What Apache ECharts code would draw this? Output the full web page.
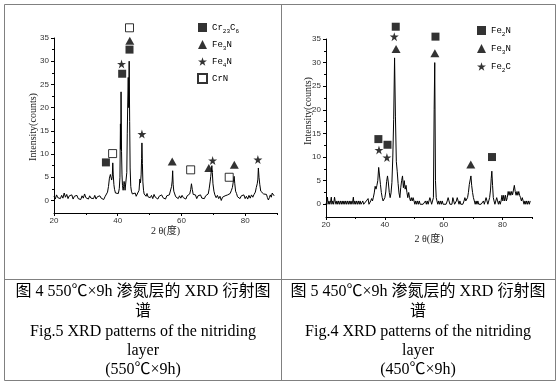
<!DOCTYPE html>
<html><head><meta charset="utf-8">
<script src="https://cdn.jsdelivr.net/npm/echarts@6/dist/echarts.min.js"></script>
<style>html,body{margin:0;padding:0;background:#fff}#c{width:560px;height:385px}</style>
</head><body><div id="c"></div>
<script>
// ---------- data ----------
const xMajorTicks = [20, 40, 60, 80];
const xMinorTicks = [30, 50, 70, 90];
const yMajorTicks = [0, 5, 10, 15, 20, 25, 30, 35];
const yMinorTicks = [2.5, 7.5, 12.5, 17.5, 22.5, 27.5, 32.5];

// 550C x 9h pattern: [2theta, counts]
const leftScan = [
 [20.0,0.9],[20.4,0.3],[20.8,1.2],[21.2,0.6],[21.6,1.0],[22.0,0.4],[22.4,1.1],[22.8,0.5],[23.2,1.6],[23.6,0.7],
 [24.0,1.3],[24.4,0.4],[24.8,1.0],[25.2,0.6],[25.6,1.2],[26.0,0.3],[26.4,0.9],[26.8,0.5],[27.2,1.1],[27.6,0.4],
 [28.0,0.8],[28.4,0.2],[28.8,1.0],[29.2,0.5],[29.6,1.4],[30.0,0.6],[30.4,0.9],[30.8,0.3],[31.2,1.0],[31.6,0.5],
 [32.0,0.9],[32.4,0.4],[32.8,1.1],[33.2,0.3],[33.6,0.8],[34.0,0.4],[34.4,1.0],[34.8,0.5],[35.2,0.8],[35.6,0.2],
 [36.0,0.8],[36.4,1.2],[36.8,1.8],[37.1,3.0],[37.4,4.8],[37.7,5.6],[37.9,5.0],[38.1,4.4],[38.3,5.2],[38.45,8.1],
 [38.6,5.5],[38.8,3.4],[39.0,2.4],[39.3,1.6],[39.6,1.3],[39.9,1.8],[40.2,1.5],[40.5,2.6],[40.7,5.0],[40.85,16.5],
 [40.95,11.0],[41.05,23.4],[41.2,10.5],[41.35,5.5],[41.5,3.2],[41.7,2.2],[41.85,3.0],[42.0,4.1],[42.15,3.4],[42.3,2.2],
 [42.5,1.8],[42.7,2.5],[42.85,6.0],[43.0,14.5],[43.15,21.0],[43.3,26.5],[43.45,20.0],[43.6,30.0],[43.75,17.0],[43.9,7.0],
 [44.1,3.0],[44.3,2.0],[44.6,1.4],[44.9,1.8],[45.2,1.1],[45.5,1.6],[45.8,0.9],[46.1,1.3],[46.4,1.0],[46.7,2.2],
 [46.95,4.6],[47.15,3.8],[47.35,5.5],[47.5,9.0],[47.6,12.4],[47.75,8.0],[47.9,4.0],[48.1,2.2],[48.3,1.4],[48.6,1.8],
 [48.9,0.9],[49.2,1.5],[49.5,0.8],[49.8,1.2],[50.2,0.6],[50.6,1.1],[51.0,0.4],[51.4,1.3],[51.8,0.7],[52.2,1.0],
 [52.6,0.3],[53.0,0.9],[53.4,0.5],[53.8,1.2],[54.2,0.6],[54.6,0.9],[55.0,0.3],[55.4,1.0],[55.8,0.7],[56.2,1.2],
 [56.6,1.6],[56.9,3.0],[57.1,4.2],[57.25,6.4],[57.4,3.5],[57.6,2.0],[57.9,1.4],[58.2,0.8],[58.6,1.2],[59.0,0.4],
 [59.4,1.0],[59.8,0.5],[60.2,1.1],[60.6,0.6],[61.0,0.9],[61.4,0.3],[61.8,1.0],[62.2,0.7],[62.6,1.4],[62.9,2.3],
 [63.15,3.6],[63.4,2.4],[63.7,1.3],[64.0,0.9],[64.4,1.2],[64.8,0.4],[65.2,1.0],[65.6,0.6],[66.0,1.2],[66.4,0.5],
 [66.8,0.9],[67.2,0.4],[67.6,1.0],[68.0,0.6],[68.4,1.4],[68.7,2.5],[69.0,4.0],[69.2,5.2],[69.4,5.6],[69.55,7.5],
 [69.7,6.0],[69.9,3.6],[70.2,2.0],[70.5,1.2],[70.9,0.6],[71.3,1.1],[71.7,0.4],[72.1,0.9],[72.5,0.0],[72.9,0.7],
 [73.3,0.3],[73.7,1.0],[74.1,0.8],[74.5,1.2],[74.9,0.9],[75.3,1.5],[75.7,2.2],[76.0,2.8],[76.3,3.0],[76.55,5.2],
 [76.75,3.6],[77.0,2.0],[77.3,1.5],[77.6,0.8],[78.0,1.1],[78.4,0.4],[78.8,1.0],[79.2,0.6],[79.6,1.2],[80.0,0.4],
 [80.4,0.9],[80.8,0.3],[81.2,1.1],[81.6,0.5],[82.0,1.2],[82.4,0.7],[82.8,1.3],[83.2,1.8],[83.5,2.8],[83.8,3.6],
 [84.0,4.6],[84.15,7.0],[84.35,5.0],[84.6,3.4],[84.9,2.0],[85.2,1.6],[85.5,2.2],[85.8,1.4],[86.1,1.7],[86.4,1.0],
 [86.7,1.3],[87.0,0.6],[87.3,0.1],[87.6,0.6],[87.9,1.2],[88.2,0.7],[88.5,1.6],[88.8,2.0],[89.1,1.0]
];

// 450C x 9h pattern: [2theta, counts]
const rightScan = [
 [20.0,0],[20.3,0.7],[20.5,1.5],[20.7,0],[21.0,0.7],[21.3,0],[21.6,0.7],[21.8,1.5],[22.0,0],[22.3,0.7],
 [22.6,0],[22.9,1.5],[23.1,0.7],[23.4,0],[23.7,0.7],[24.0,0],[24.3,0.7],[24.6,0],[24.9,0.7],[25.2,0],
 [25.5,0.7],[25.8,0],[26.1,0.7],[26.4,0],[26.7,0.7],[27.0,0],[27.3,0.7],[27.6,0],[27.9,0.7],[28.2,0],
 [28.5,0.7],[28.8,0],[29.1,0.7],[29.3,1.5],[29.5,0],[29.8,0.7],[30.1,0],[30.4,0.7],[30.7,0],[31.0,0.7],
 [31.3,0],[31.6,0.7],[31.9,0],[32.2,0],[32.5,0.7],[32.8,0],[33.1,0],[33.4,0],[33.7,0.7],[34.0,0.7],
 [34.3,1.2],[34.6,0],[34.9,0],[35.2,0.7],[35.5,1.2],[35.8,0.7],[36.1,1.5],[36.4,2.4],[36.7,3.8],[37.0,3.2],
 [37.3,4.0],[37.6,5.0],[37.9,7.8],[38.2,6.0],[38.5,4.2],[38.8,2.5],[39.1,1.4],[39.4,0.7],[39.7,0.7],[40.0,1.4],
 [40.3,2.6],[40.6,4.8],[40.9,6.0],[41.2,4.5],[41.5,2.5],[41.8,1.4],[42.1,2.4],[42.4,4.6],[42.7,10.0],[43.0,18.0],
 [43.3,31.0],[43.6,18.5],[43.9,9.0],[44.2,7.0],[44.5,4.4],[44.8,2.4],[45.1,1.4],[45.4,3.5],[45.7,5.0],[46.0,6.0],
 [46.3,3.5],[46.6,5.0],[46.9,3.2],[47.2,4.0],[47.5,2.5],[47.8,1.4],[48.1,2.5],[48.4,1.4],[48.7,0.7],[49.0,1.4],
 [49.3,0.7],[49.6,1.4],[49.9,0.7],[50.2,0],[50.5,0.7],[50.8,0],[51.1,0.7],[51.4,0],[51.7,0.7],[52.0,0],
 [52.3,0],[52.6,0],[53.0,0],[53.4,0],[53.8,0.7],[54.1,0],[54.4,0.7],[54.7,0],[55.0,0.7],[55.3,1.4],
 [55.6,0.7],[55.9,0],[56.2,0],[56.5,1.4],[56.75,20.0],[56.95,30.0],[57.2,5.0],[57.45,1.4],[57.7,0.7],[58.0,0],
 [58.3,0.7],[58.6,0],[58.9,0.7],[59.2,0],[59.5,0.7],[59.8,0],[60.1,0],[60.4,0],[60.8,0],[61.2,0.7],
 [61.5,1.4],[61.8,0.7],[62.1,0],[62.5,0],[62.8,0],[63.1,1.4],[63.4,0.7],[63.7,0],[64.0,0],[64.3,0.7],
 [64.6,1.4],[64.9,0.7],[65.2,0],[65.5,0.7],[65.8,0],[66.1,0],[66.5,0],[66.9,0.7],[67.2,1.4],[67.5,0.7],
 [67.8,0.7],[68.1,1.4],[68.4,2.5],[68.7,4.2],[69.0,4.6],[69.25,6.0],[69.5,4.0],[69.8,2.5],[70.1,1.4],[70.4,0.7],
 [70.7,0],[71.0,0.7],[71.3,0],[71.6,0.7],[71.9,0],[72.3,0],[72.7,0],[73.1,0],[73.5,0.7],[73.8,0],
 [74.1,0.7],[74.4,1.4],[74.7,0.7],[75.0,0],[75.3,0.7],[75.6,1.4],[75.9,3.0],[76.15,5.5],[76.35,7.0],[76.6,4.0],
 [76.85,1.4],[77.1,0.7],[77.4,0],[77.7,0.7],[78.0,1.4],[78.3,0.7],[78.6,0],[78.9,0.7],[79.2,0],[79.5,0.7],
 [79.8,1.9],[80.1,0.7],[80.4,1.9],[80.7,0.7],[81.0,1.9],[81.3,0.7],[81.6,1.4],[81.9,2.7],[82.2,1.9],[82.5,2.7],
 [82.8,1.9],[83.1,2.7],[83.4,2.0],[83.7,3.0],[84.0,4.0],[84.3,2.7],[84.6,1.9],[84.9,2.7],[85.2,1.9],[85.5,2.7],
 [85.8,1.9],[86.1,1.4],[86.4,0.7],[86.7,1.4],[87.0,0.7],[87.3,0],[87.6,0.7],[87.9,0],[88.2,0.7],[88.5,0],
 [88.8,0.7],[89.1,0],[89.4,0.7]
];

// phase markers placed above peaks: [2theta, height]
const leftCr23C6 = [[36.3,8.2],[41.4,27.3],[43.7,32.5]];
const leftFe3N   = [[43.8,34.4],[57.1,8.4],[68.6,7.0],[76.6,7.7]];
const leftFe4N   = [[41.2,29.4],[47.6,14.3],[69.8,8.6],[84.0,8.8]];
const leftCrN    = [[43.7,37.2],[38.4,10.1],[62.9,6.6],[75.0,5.0]];
const rightFe2N  = [[43.7,37.6],[57.2,35.5],[37.8,13.8],[40.9,12.6],[76.4,10.0]];
const rightFe3N  = [[43.8,32.9],[57.0,32.0],[69.2,8.4]];
const rightFe2C  = [[43.2,35.5],[38.0,11.5],[40.7,9.9]];

const leftPhases  = ['Cr23C6', 'Fe3N', 'Fe4N', 'CrN'];
const rightPhases = ['Fe2N', 'Fe3N', 'Fe2C'];

const axisTitleX = '2 θ(度)';
const axisTitleY = 'Intensity(counts)';
const captionLeft  = ['图 4 550℃×9h 渗氮层的 XRD 衍射图', '谱', 'Fig.5 XRD patterns of the nitriding', 'layer', '(550℃×9h)'];
const captionRight = ['图 5 450℃×9h 渗氮层的 XRD 衍射图', '谱', 'Fig.4 XRD patterns of the nitriding', 'layer', '(450℃×9h)'];

// ---------- chart ----------
const STAR = 'path://M50 0L61.8 36.2H100L69.1 58.8L80.9 95.1L50 72.6L19.1 95.1L30.9 58.8L0 36.2H38.2Z';
const tickFont = 'Liberation Sans';
const serifCJK = '"Liberation Serif", "Noto Sans CJK SC"';

function xAxesFor(grid, gap) {
  return [
    { gridIndex: grid, type: 'value', min: 20, max: 90, position: 'bottom',
      axisLine: { onZero: false, lineStyle: { color: '#000', width: 1 } },
      axisTick: { customValues: xMajorTicks, length: 3, lineStyle: { color: '#000' } },
      axisLabel: { customValues: xMajorTicks, fontSize: 8, margin: 4, color: '#333', fontFamily: tickFont },
      splitLine: { show: false },
      name: axisTitleX, nameLocation: 'middle', nameGap: gap,
      nameTextStyle: { fontSize: 10, color: '#222', fontFamily: serifCJK } },
    { gridIndex: grid, type: 'value', min: 20, max: 90, position: 'bottom',
      axisLine: { show: false, onZero: false },
      axisTick: { customValues: xMinorTicks, length: 2, lineStyle: { color: '#000' } },
      axisLabel: { show: false }, splitLine: { show: false } }
  ];
}
function yAxesFor(grid) {
  return [
    { gridIndex: grid, type: 'value', min: -2.7, max: 35, position: 'left',
      axisLine: { show: true, onZero: false, lineStyle: { color: '#000', width: 1 } },
      axisTick: { show: true, customValues: yMajorTicks, length: 3, lineStyle: { color: '#000' } },
      axisLabel: { customValues: yMajorTicks, fontSize: 8, margin: 5, color: '#333', fontFamily: tickFont },
      splitLine: { show: false } },
    { gridIndex: grid, type: 'value', min: -2.7, max: 35, position: 'left',
      axisLine: { show: false, onZero: false },
      axisTick: { show: true, customValues: yMinorTicks, length: 2, lineStyle: { color: '#000' } },
      axisLabel: { show: false }, splitLine: { show: false } }
  ];
}
function marks(name, data, axis, symbol, size, hollow) {
  return { type: 'scatter', name, data, xAxisIndex: axis, yAxisIndex: axis,
    symbol, symbolSize: size, clip: false, z: 5, silent: true,
    itemStyle: hollow ? { color: '#fff', borderColor: '#000', borderWidth: 1 } : { color: '#000' } };
}
const legendText = {
  fontFamily: 'Liberation Mono', fontSize: 9, color: '#000', lineHeight: 13,
  rich: { s: { fontFamily: 'Liberation Mono', fontSize: 6, color: '#000', verticalAlign: 'bottom' } }
};
const subFmt = n => n.replace(/(\d+)/g, '{s|$1}');

function captionGraphics(lines, cx) {
  const ys = [292, 312, 332, 351, 370];
  return lines.map((t, i) => ({ type: 'text', x: cx, y: ys[i], silent: true,
    style: { text: t, align: 'center', verticalAlign: 'middle', fill: '#000',
      font: '16px "Liberation Serif", "Noto Sans CJK SC"' } }));
}

const chart = echarts.init(document.getElementById('c'));
chart.setOption({
  animation: false,
  backgroundColor: '#fff',
  grid: [
    { left: 54, top: 38, width: 223, height: 175 },
    { left: 326, top: 39, width: 206, height: 178 }
  ],
  xAxis: [...xAxesFor(0, 9), ...xAxesFor(1, 17)],
  yAxis: [...yAxesFor(0), ...yAxesFor(1)],
  legend: [
    { data: leftPhases, orient: 'vertical', left: 197, top: 21, padding: 0, itemWidth: 9, itemHeight: 9,
      itemGap: 4, selectedMode: false, textStyle: legendText, formatter: subFmt },
    { data: rightPhases, orient: 'vertical', left: 477, top: 24, padding: 0, itemWidth: 9, itemHeight: 9,
      itemGap: 5, selectedMode: false, textStyle: legendText, formatter: subFmt }
  ],
  series: [
    { type: 'line', data: leftScan, xAxisIndex: 0, yAxisIndex: 0, symbol: 'none', silent: true,
      lineStyle: { color: '#000', width: 1 } },
    { type: 'line', data: rightScan, xAxisIndex: 2, yAxisIndex: 2, symbol: 'none', silent: true,
      lineStyle: { color: '#000', width: 1 } },
    marks('Cr23C6', leftCr23C6, 0, 'rect', 8, false),
    marks('Fe3N', leftFe3N, 0, 'triangle', [9, 8], false),
    marks('Fe4N', leftFe4N, 0, STAR, 9, false),
    marks('CrN', leftCrN, 0, 'rect', 8, true),
    marks('Fe2N', rightFe2N, 2, 'rect', 8, false),
    marks('Fe3N', rightFe3N, 2, 'triangle', [9, 8], false),
    marks('Fe2C', rightFe2C, 2, STAR, 9, false)
  ],
  graphic: [
    { type: 'rect', silent: true, shape: { x: 4.5, y: 4.5, width: 551, height: 376 },
      style: { fill: 'none', stroke: '#808080', lineWidth: 1 } },
    { type: 'line', silent: true, shape: { x1: 281.5, y1: 4.5, x2: 281.5, y2: 380.5 },
      style: { stroke: '#808080', lineWidth: 1 } },
    { type: 'line', silent: true, shape: { x1: 4.5, y1: 279.5, x2: 555.5, y2: 279.5 },
      style: { stroke: '#808080', lineWidth: 1 } },
    { type: 'text', x: 33, y: 127, rotation: Math.PI / 2, silent: true,
      style: { text: axisTitleY, align: 'center', verticalAlign: 'middle', fill: '#222',
        font: '10px "Liberation Serif"' } },
    { type: 'text', x: 308, y: 111, rotation: Math.PI / 2, silent: true,
      style: { text: axisTitleY, align: 'center', verticalAlign: 'middle', fill: '#222',
        font: '10px "Liberation Serif"' } },
    ...captionGraphics(captionLeft, 143),
    ...captionGraphics(captionRight, 418)
  ]
});
</script></body></html>
